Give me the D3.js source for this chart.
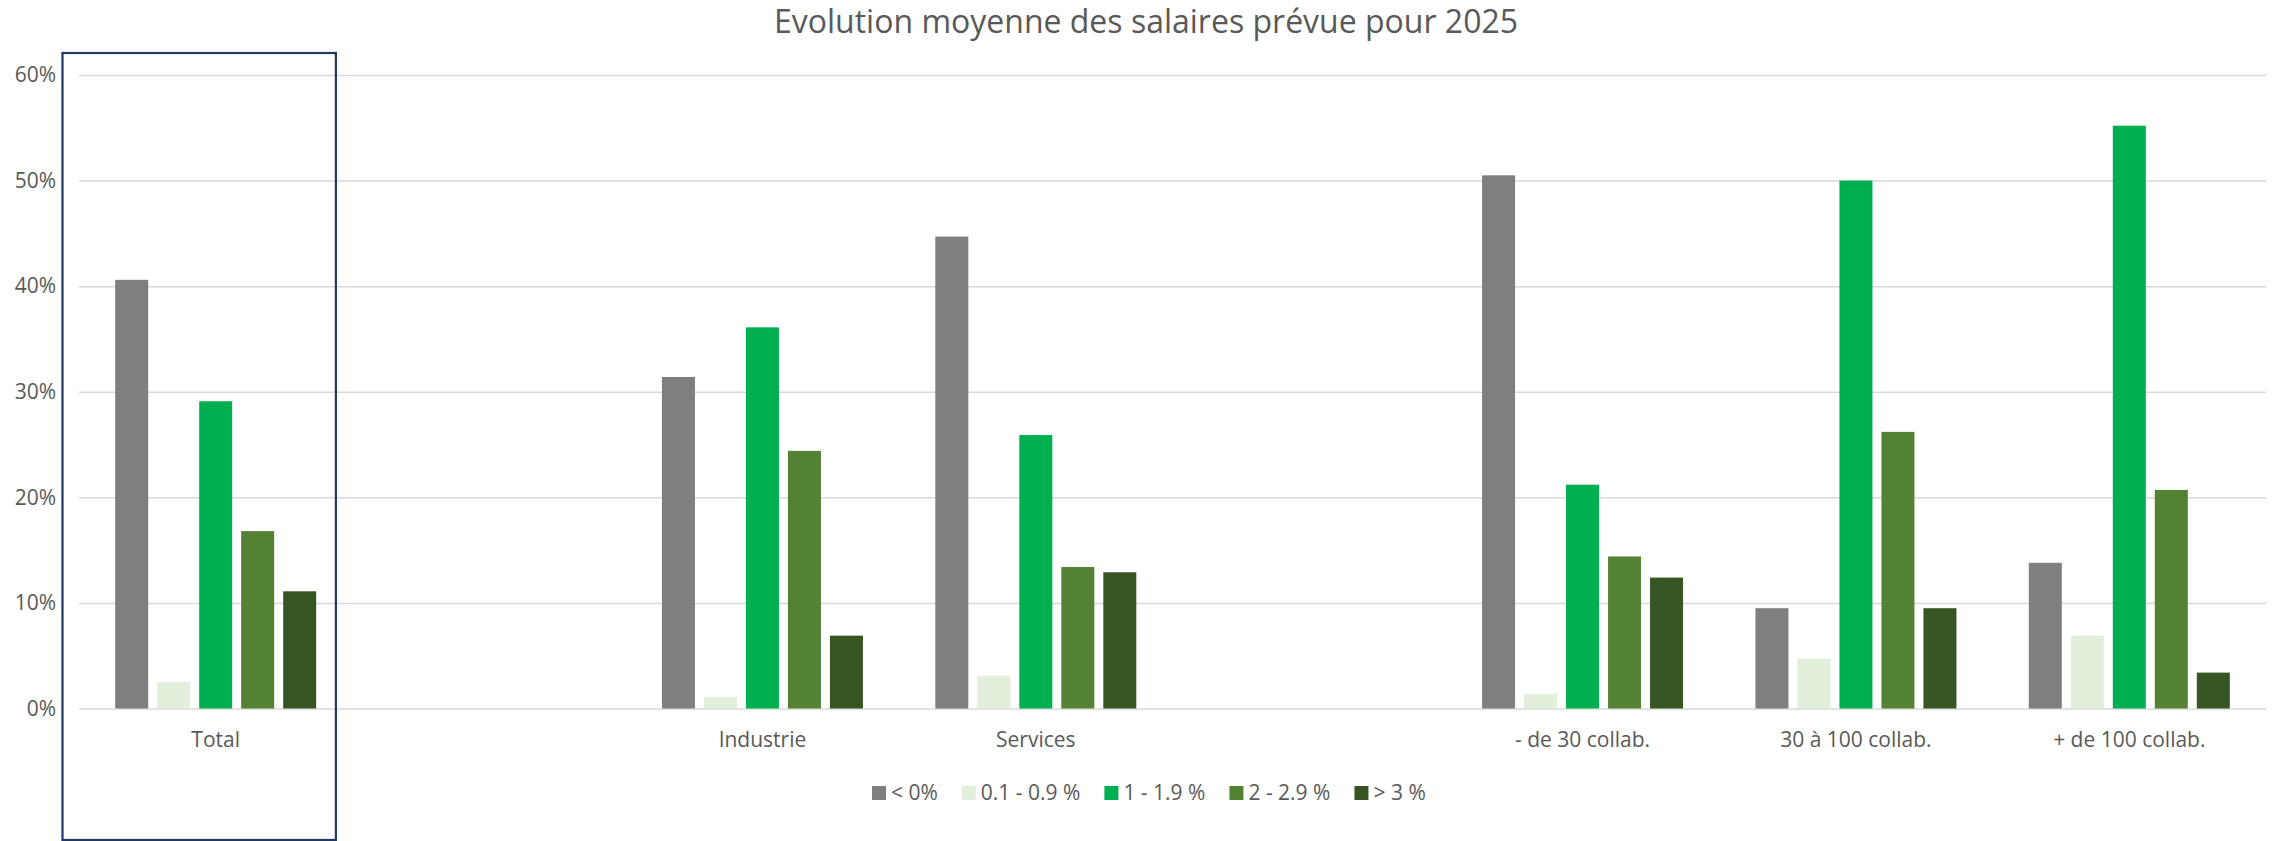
<!DOCTYPE html>
<html>
<head>
<meta charset="utf-8">
<script src="https://cdn.jsdelivr.net/npm/d3@7"></script>
<style>
  body { margin: 0; background: #fff; }
  text { font-family: "Open Sans", sans-serif; fill: #595959; }
  .grid line { stroke: #d9d9d9; stroke-width: 1.5px; }
  .grid .domain, .xaxis .domain { display: none; }
</style>
</head>
<body>
<div id="chart"></div>
<script>
//Chart data (percent values)
var categories = ["Total", "", "Industrie", "Services", "", "- de 30 collab.", "30 à 100 collab.", "+ de 100 collab."];
var seriesNames = ["< 0%", "0.1 - 0.9 %", "1 - 1.9 %", "2 - 2.9 %", "> 3 %"];
var seriesColors = ["#7f7f7f", "#e2efda", "#00b050", "#548235", "#375623"];
var lt0   = [40.6, null, 31.4, 44.7, null, 50.5, 9.5, 13.8];
var s01   = [2.5,  null, 1.1,  3.1,  null, 1.4,  4.7, 6.9];
var s1    = [29.1, null, 36.1, 25.9, null, 21.2, 50.0, 55.2];
var s2    = [16.8, null, 24.4, 13.4, null, 14.4, 26.2, 20.7];
var gt3   = [11.1, null, 6.9,  12.9, null, 12.4, 9.5, 3.4];
var yTicks = [0, 0.1, 0.2, 0.3, 0.4, 0.5, 0.6];
var title = "Evolution moyenne des salaires prévue pour 2025";

var allSeries = [lt0, s01, s1, s2, gt3];

//Canvas
var W = 2278, H = 841;
var plot = {left: 79, right: 2266, top: 75, bottom: 708.5};

var svg = d3.select("#chart").append("svg")
	.attr("width", W)
	.attr("height", H);

//Scales
var x0 = d3.scaleBand()
	.domain(d3.range(categories.length))
	.range([plot.left, plot.right])
	.padding(0);

var groupW = 201;
var x1 = d3.scaleBand()
	.domain(d3.range(seriesNames.length))
	.range([0, groupW])
	.paddingInner(0.214)
	.paddingOuter(0);

var y = d3.scaleLinear()
	.domain([0, 0.6])
	.range([plot.bottom, plot.top]);

//Title
svg.append("text")
	.attr("x", 1146)
	.attr("y", 33)
	.attr("text-anchor", "middle")
	.style("font-size", "32px")
	.text(title);

//Gridlines + y labels
var grid = svg.append("g")
	.attr("class", "grid")
	.attr("transform", "translate(" + plot.left + ",0)")
	.call(d3.axisLeft(y)
		.tickValues(yTicks)
		.tickSize(-(plot.right - plot.left))
		.tickPadding(23)
		.tickFormat(d3.format(".0%")));
grid.selectAll("text").style("font-size", "21px").attr("fill", "#595959");

//Bars
var groups = svg.append("g").attr("class", "bars")
	.selectAll("g")
	.data(categories.map(function(c, i) { return i; }))
	.enter().append("g")
	.attr("transform", function(i) { return "translate(" + (x0(i) + (x0.bandwidth() - groupW) / 2) + ",0)"; });

groups.selectAll("rect")
	.data(function(i) {
		return allSeries.map(function(s, k) { return {k: k, v: s[i]}; })
			.filter(function(d) { return d.v != null; });
	})
	.enter().append("rect")
	.attr("x", function(d) { return x1(d.k); })
	.attr("width", x1.bandwidth())
	.attr("y", function(d) { return y(d.v / 100); })
	.attr("height", function(d) { return y(0) - y(d.v / 100); })
	.attr("fill", function(d) { return seriesColors[d.k]; });

//Category labels
var xaxis = svg.append("g")
	.attr("class", "xaxis")
	.attr("transform", "translate(0," + plot.bottom + ")")
	.call(d3.axisBottom(x0)
		.tickSize(0)
		.tickPadding(24)
		.tickFormat(function(i) { return categories[i]; }));
xaxis.selectAll("text").style("font-size", "21px").attr("fill", "#595959");

//Highlight box round the Total group
svg.append("rect")
	.attr("x", x0(0) - 16.5)
	.attr("y", 53)
	.attr("width", x0.bandwidth())
	.attr("height", 787)
	.attr("fill", "none")
	.attr("stroke", "#1f3864")
	.attr("stroke-width", 2.2);

//Legend
var legend = svg.append("g").attr("class", "legend");
var lx = 872;
seriesNames.forEach(function(name, k) {
	var item = legend.append("g").attr("transform", "translate(" + lx + ",0)");
	item.append("rect")
		.attr("x", 0).attr("y", 786)
		.attr("width", 14).attr("height", 14)
		.attr("fill", seriesColors[k]);
	var t = item.append("text")
		.attr("x", 19).attr("y", 800)
		.style("font-size", "21px")
		.text(name);
	lx += 19 + t.node().getComputedTextLength() + 24;
});
</script>
</body>
</html>
